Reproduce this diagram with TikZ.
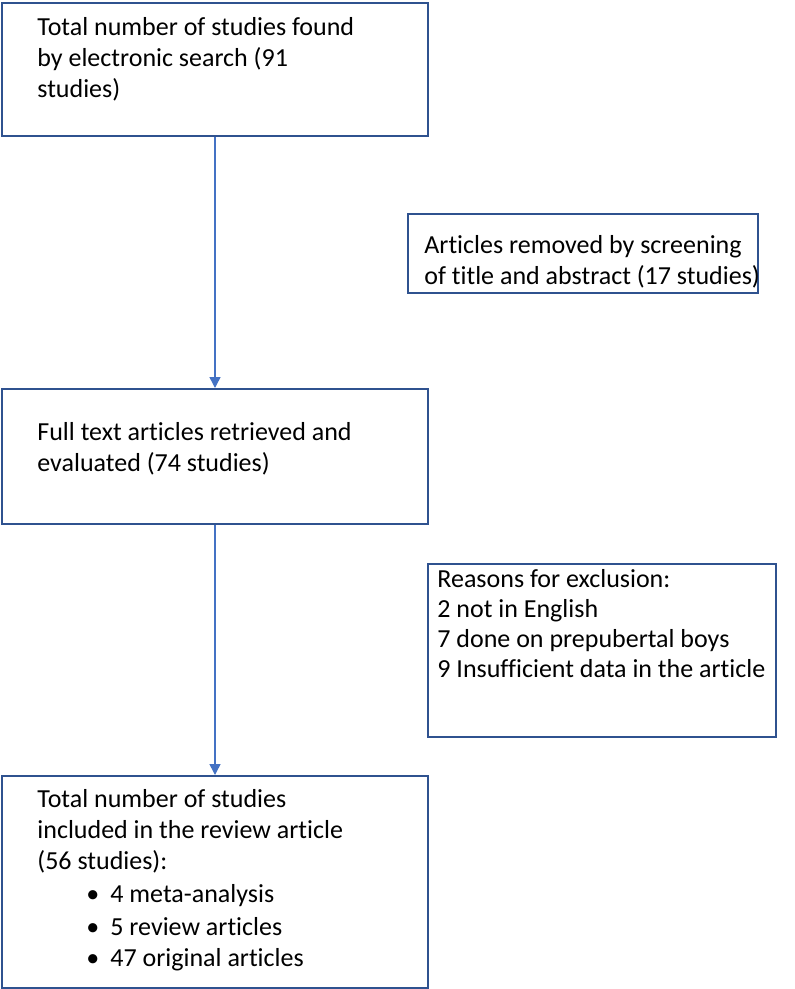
\documentclass[tikz,border=0pt]{standalone}
\usepackage{fontspec}
\setmainfont{Carlito}[Ligatures=NoCommon]
\usetikzlibrary{arrows.meta}
\definecolor{boxblue}{RGB}{47,82,143}
\definecolor{arrowblue}{RGB}{68,114,196}

\tikzset{
	box/.style={draw=boxblue, line width=1pt, anchor=north west, inner sep=0pt},
	boxtext/.style={anchor=north west, align=left, inner sep=0pt, font=\fontsize{13}{15.5}\selectfont},
	flow/.style={-{Triangle[width=5.5pt,length=5.5pt]}, line width=0.75pt, arrowblue}
}

\begin{document}
\begin{tikzpicture}[x=0.5pt, y=-0.5pt]
		\useasboundingbox (0,0) rectangle (795,989);

		% Main boxes
		\node[box, minimum width=213pt, minimum height=66.5pt] (found) at (1,2) {};
		\node[boxtext] (foundtext) at (37,17) {Total number of studies found\\by electronic search (91\\studies)};

		\node[box, minimum width=213pt, minimum height=67.5pt] (full) at (1,388) {};
		\node[boxtext] (fulltext) at (37,422) {Full text articles retrieved and\\evaluated (74 studies)};

		\node[box, minimum width=213pt, minimum height=106pt] (incl) at (1,775) {};
		\node[boxtext] (incltext) at (37,789) {Total number of studies\\included in the review article\\(56 studies):\\[1pt]
			\hspace*{24.5pt}\makebox[12pt][l]{\textbullet}4 meta-analysis\\[1pt]
			\hspace*{24.5pt}\makebox[12pt][l]{\textbullet}5 review articles\\
			\hspace*{24.5pt}\makebox[12pt][l]{\textbullet}47 original articles};

		% Side boxes
		\node[box, minimum width=175pt, minimum height=39.5pt] (removed) at (407,213) {};
		\node[boxtext] (removedtext) at (424,235) {Articles removed by screening\\of title and abstract (17 studies)};

		\node[box, minimum width=174pt, minimum height=86.5pt] (excl) at (427,563) {};
		\node[boxtext, font=\fontsize{13}{15}\selectfont] (excltext) at (437,569) {Reasons for exclusion:\\2 not in English\\7 done on prepubertal boys\\9 Insufficient data in the article};

		% Connections
		\draw [flow] (found.south) -- (full.north);
		\draw [flow] (full.south) -- (incl.north);

	\end{tikzpicture}
\end{document}
